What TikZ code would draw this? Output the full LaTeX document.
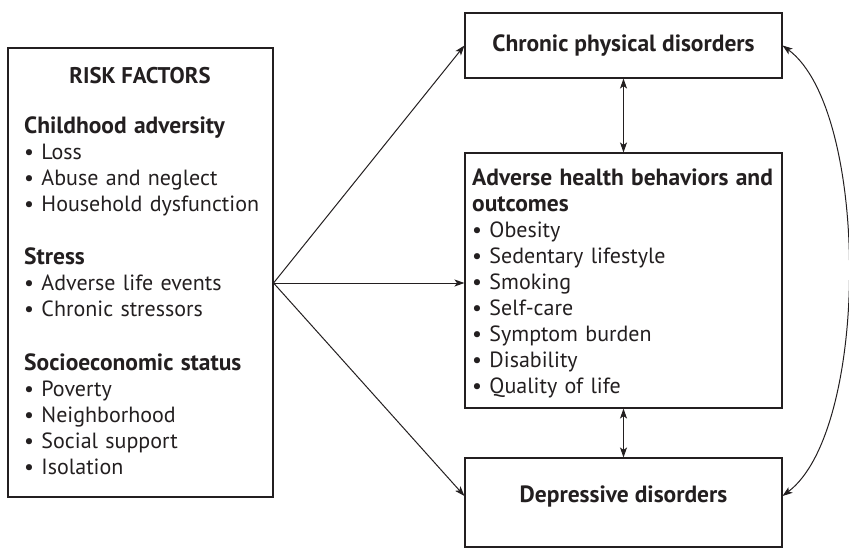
\documentclass[tikz,border=0pt]{standalone}
\usepackage{fontspec}
\setmainfont{PT Sans}
\usetikzlibrary{arrows.meta}
\definecolor{ink}{HTML}{231F20}
\newcommand{\hdfont}{\fontsize{23.5}{26}\selectfont\bfseries}
\begin{document}
\begin{tikzpicture}[x=1pt,y=-1pt,
  box/.style={draw=ink, line width=1.1pt, inner sep=0pt, text=ink},
  txt/.style={text=ink, inner sep=0pt, text width=320pt, align=left, font=\fontsize{22}{26}\selectfont},
  hd/.style={text=ink, inner sep=0pt, font=\fontsize{22.7}{26}\selectfont\bfseries},
  big/.style={font=\hdfont},
  arr/.style={draw=ink, line width=1pt, -{Stealth[length=10pt,width=7pt,inset=2.5pt]}},
  darr/.style={draw=ink, line width=1pt, {Stealth[length=10pt,width=7pt,inset=2.5pt]}-{Stealth[length=10pt,width=7pt,inset=2.5pt]}}
]
\useasboundingbox (0,0) rectangle (849,549);
% boxes
\node[box, minimum width=265pt, minimum height=449pt] (rf) at (140.5,272.5) {};
\node[box, big, minimum width=317pt, minimum height=65pt] (chr) at (623.5,45.5) {Chronic physical disorders};
\node[box, minimum width=317pt, minimum height=255pt] (adv) at (623.5,280.5) {};
\node[box, minimum width=317pt, minimum height=89pt] (dep) at (623.5,502.5) {};
\node[text=ink, big, inner sep=0pt] (dept) at (623.5,496) {Depressive disorders};
% left text
\node[hd, anchor=base] (rfh) at (140,83) {RISK FACTORS};
\node[txt, anchor=base west] (rf1) at (24,133) {{\hdfont Childhood adversity}\\ • Loss\\ • Abuse and neglect\\ • Household dysfunction};
\node[txt, anchor=base west] (rf2) at (24,264) {{\hdfont Stress}\\ • Adverse life events\\ • Chronic stressors};
\node[txt, anchor=base west] (rf3) at (24,370) {{\hdfont Socioeconomic status}\\ • Poverty\\ • Neighborhood\\ • Social support\\ • Isolation};
% adverse text
\node[txt, anchor=base west] (advt) at (472,185) {{\hdfont Adverse health behaviors and\\ outcomes}\\ • Obesity\\ • Sedentary lifestyle\\ • Smoking\\ • Self-care\\ • Symptom burden\\ • Disability\\ • Quality of life};
% connectors
\coordinate (fan) at ([yshift=-10.5pt]rf.east);
\coordinate (depin) at (dept -| dep.west);
\coordinate (depout) at (dept -| dep.east);
\draw[arr] (fan) -- (chr.west);
\draw[arr] (fan) -- (fan -| adv.west);
\draw[arr] (fan) -- (depin);
\draw[darr] (chr.south) -- (adv.north);
\draw[darr] (adv.south) -- (dep.north);
\draw[darr] (chr.east) .. controls (870,110) and (870,430) .. (depout);
\end{tikzpicture}
\end{document}
